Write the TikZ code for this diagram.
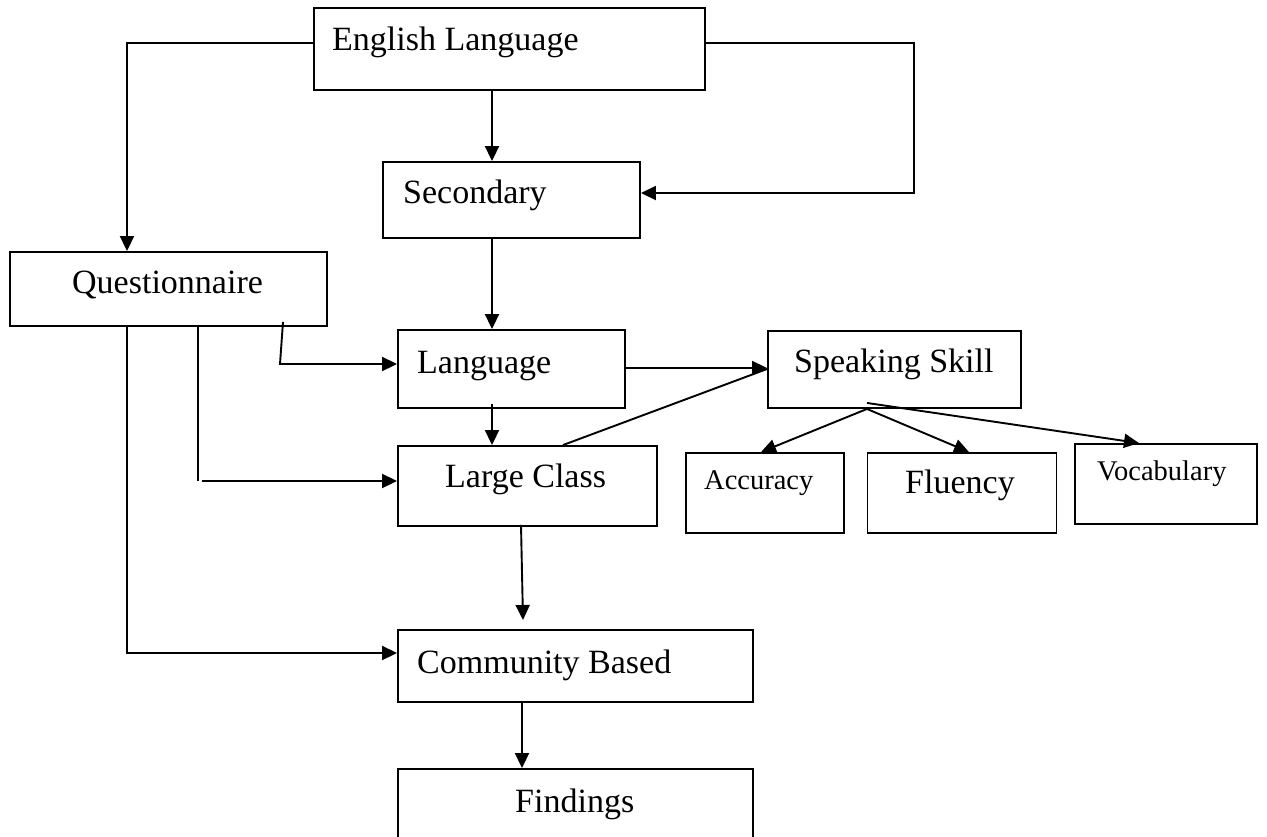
\documentclass[tikz,border=0pt]{standalone}
\usepackage{fontspec}
\setmainfont{Liberation Serif}
\usetikzlibrary{arrows.meta}
\begin{document}
\begin{tikzpicture}[x=1pt,y=-1pt,
  box/.style={draw, line width=1.9pt, rectangle, inner sep=0pt},
  lbl/.style={anchor=base west, inner sep=0pt, font=\fontsize{34}{40}\selectfont},
  slbl/.style={anchor=base west, inner sep=0pt, font=\fontsize{28.5}{34}\selectfont},
  conn/.style={line width=1.9pt},
  arr/.style={conn, -{Triangle[length=15pt,width=14pt]}}]
\useasboundingbox (0,0) rectangle (1267,836);

% boxes
\node[box, minimum width=391pt, minimum height=82pt] (eng)  at (509.5,49) {};
\node[box, minimum width=257pt, minimum height=76pt] (sec)  at (511.5,200) {};
\node[box, minimum width=317pt, minimum height=74pt] (q)    at (168.5,289) {};
\node[box, minimum width=227pt, minimum height=78pt] (lang) at (511.5,369) {};
\node[box, minimum width=253pt, minimum height=77pt] (spk)  at (894.5,369.5) {};
\node[box, minimum width=259pt, minimum height=80pt] (lc)   at (527.5,486) {};
\node[box, minimum width=158pt, minimum height=80pt] (acc)  at (765,493) {};
\node[box, minimum width=189pt, minimum height=80pt] (flu)  at (962,493) {};
\node[box, minimum width=182pt, minimum height=80pt] (voc)  at (1166,484) {};
\node[box, minimum width=355pt, minimum height=72pt] (com)  at (575.5,666) {};
\node[box, minimum width=355pt, minimum height=82pt] (fin)  at (575.5,810) {};

% labels
\node[lbl]  (engT)  at (332,50)  {English Language};
\node[lbl]  (secT)  at (403,203) {Secondary};
\node[lbl]  (qT)    at (72,293)  {Questionnaire};
\node[lbl]  (langT) at (417,373) {Language};
\node[lbl]  (spkT)  at (794,372) {Speaking Skill};
\node[lbl]  (lcT)   at (445,487) {Large Class};
\node[slbl] (accT)  at (704,489) {Accuracy};
\node[lbl]  (fluT)  at (905,493) {Fluency};
\node[slbl] (vocT)  at (1097,480) {Vocabulary};
\node[lbl]  (comT)  at (417,673) {Community Based};
\node[lbl]  (finT)  at (515,812) {Findings};

\coordinate (comIn) at (523,620);

% connectors
\draw[arr] (eng.west |- 0,43) -| (q.north -| 127,0);
\draw[arr] (eng.south -| 492,0) -- (sec.north -| 492,0);
\draw[arr] (eng.east |- 0,43) -| (914,193) -- (sec.east |- 0,193);
\draw[arr] (sec.south -| 492,0) -- (lang.north -| 492,0);
\draw[arr] (q.south -| 283,0) ++(0,-5) -- (280,364) -- (lang.west |- 0,364);
\draw[conn] (q.south -| 198,0) -- (198,481);
\draw[arr] (202,481) -- (lc.west |- 0,481);
\draw[arr] (q.south -| 127,0) |- (com.west |- 0,653);
\draw[arr] (lang.south -| 492,0) ++(0,-5) -- (lc.north -| 492,0);
\draw[arr] (lang.east |- 0,368) -- (spk.west |- 0,368);
\draw[conn] (lc.north -| 563,0) -- (spk.west |- 0,369);
\draw[arr] (spk.south -| 867,0) -- (acc.north -| 761,0);
\draw[arr] (spk.south -| 867,0) -- (flu.north -| 969,0);
\draw[arr] (spk.south -| 867,0) ++(0,-6) -- (voc.north -| 1139,0);
\draw[arr] (lc.south -| 521,0) ++(0,-2) -- (comIn);
\draw[arr] (com.south -| 522,0) -- (fin.north -| 522,0);
\end{tikzpicture}
\end{document}
